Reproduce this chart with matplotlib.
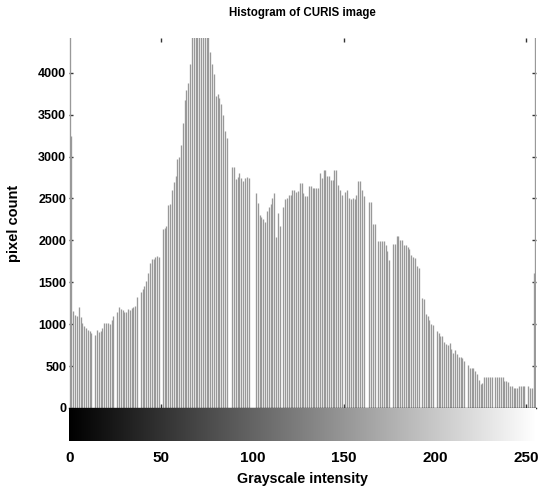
import numpy as np
import matplotlib
matplotlib.use("Agg")
import matplotlib.pyplot as plt

# Grayscale histogram of the CURIS image (pixel counts per intensity level 0..255)
counts = [
    5200, 3250, 1160, 1110, 1100, 1200, 1090, 1010, 975, 950,      # 0-9
    930, 915, 900, 0, 870, 930, 910, 920, 950, 1010,               # 10-19
    1010, 1010, 1000, 1050, 1100, 0, 1140, 1200, 1180, 1170,       # 20-29
    1140, 1150, 1180, 1170, 1190, 1210, 1220, 1330, 0, 1390,       # 30-39
    1420, 1450, 1510, 1610, 1730, 1780, 1780, 1800, 1810, 1800,    # 40-49
    0, 2140, 2150, 2170, 2420, 2430, 2600, 2700, 2770, 2970,       # 50-59
    3000, 3140, 3400, 3670, 3800, 3880, 4100, 4500, 4700, 4900,    # 60-69
    5000, 5100, 4900, 4800, 4700, 4600, 4500, 4250, 4100, 3990,    # 70-79
    3720, 3750, 3700, 3630, 3500, 3300, 3220, 0, 0, 2880,          # 80-89
    2880, 2730, 2760, 2800, 2750, 2710, 2740, 2760, 2750, 0,       # 90-99
    0, 0, 2570, 2450, 2300, 2280, 2260, 2220, 2350, 2400,          # 100-109
    2430, 2500, 2570, 2045, 2330, 2170, 0, 2400, 2490, 2500,       # 110-119
    2540, 2540, 2600, 2600, 2580, 2590, 2690, 2690, 2560, 2530,    # 120-129
    2530, 2650, 2650, 2630, 2630, 2620, 2620, 2810, 2750, 2840,    # 130-139
    2840, 2770, 2770, 2720, 2720, 2840, 2840, 2660, 2600, 2540,    # 140-149
    0, 2580, 2600, 2500, 2490, 2500, 2490, 2540, 2710, 2710,       # 150-159
    2600, 2530, 0, 0, 2460, 2460, 2200, 2200, 0, 1990,             # 160-169
    1990, 1990, 1990, 1950, 1870, 1770, 0, 1960, 1960, 2050,       # 170-179
    2050, 2000, 2000, 1940, 1940, 1920, 1900, 1825, 1800, 1790,    # 180-189
    1700, 1670, 0, 1310, 1300, 1120, 1100, 1050, 1000, 990,        # 190-199
    0, 920, 900, 863, 860, 790, 760, 750, 770, 700,                # 200-209
    660, 690, 640, 612, 612, 592, 560, 0, 513, 481,                # 210-219
    481, 481, 440, 405, 334, 286, 300, 374, 374, 374,              # 220-229
    374, 374, 0, 374, 365, 374, 374, 374, 326, 320,                # 230-239
    306, 262, 262, 234, 234, 234, 262, 262, 262, 262,              # 240-249
    0, 262, 234, 234, 1611, 5200,                                  # 250-255
]
levels = np.arange(len(counts))

ytick_values = [0, 500, 1000, 1500, 2000, 2500, 3000, 3500, 4000]
xtick_values = [0, 50, 100, 150, 200, 250]
hist_tick_values = [50, 150, 250]

plt.rcParams['font.family'] = ['Liberation Sans', 'DejaVu Sans']
plt.rcParams['font.weight'] = 'bold'

fig = plt.figure(figsize=(5.39, 4.88), dpi=100)

W, H = 539.0, 488.0
left_px, right_px = 69.0, 536.0
top_px, zero_px, cbar_bottom_px = 38.0, 408.0, 441.0

ax = fig.add_axes([left_px / W, 1 - zero_px / H,
                   (right_px - left_px) / W, (zero_px - top_px) / H])
cax = fig.add_axes([left_px / W, 1 - cbar_bottom_px / H,
                    (right_px - left_px) / W, (cbar_bottom_px - zero_px) / H])

# histogram stems
ax.vlines(levels, 0, counts, colors='#999999', linewidth=0.95)
ax.set_xlim(-0.3, 255.3)
ax.set_ylim(0, 4415)
ax.set_yticks(ytick_values)
ax.set_yticklabels([str(v) for v in ytick_values], fontsize=9, fontweight='bold')
ax.set_xticks(hist_tick_values)
ax.set_xticklabels([])
ax.tick_params(axis='both', direction='in', length=3, width=1, color='#333333')
ax.tick_params(axis='x', top=True, bottom=True)
ax.tick_params(axis='y', left=True, right=True, pad=2)
for side in ('top', 'left', 'right'):
    ax.spines[side].set_visible(False)
ax.spines['bottom'].set_linewidth(1.0)
ax.spines['bottom'].set_color('#222222')
ax.set_ylabel('pixel count', fontsize=10.5, fontweight='bold', labelpad=12)
ax.set_title('Histogram of CURIS image', fontsize=8.3, fontweight='bold', pad=16)

# grayscale ramp under the histogram
ramp = np.arange(256).reshape(1, -1)
cax.imshow(ramp, cmap='gray', vmin=0, vmax=255, aspect='auto',
           extent=[-0.5, 255.5, 0, 1], interpolation='bilinear')
cax.set_xlim(-0.3, 255.3)
cax.set_ylim(0, 1)
cax.set_yticks([])
cax.set_xticks(xtick_values)
cax.set_xticklabels([str(v) for v in xtick_values], fontsize=11, fontweight='bold')
cax.set_xticks(hist_tick_values, minor=True)
cax.tick_params(axis='x', which='major', length=0, pad=7)
cax.tick_params(axis='x', which='minor', direction='in', length=4, width=1,
                color='#333333', top=True, bottom=True)
for side in ('top', 'left', 'right', 'bottom'):
    cax.spines[side].set_visible(False)
cax.set_xlabel('Grayscale intensity', fontsize=10.3, fontweight='bold', labelpad=5)

fig.savefig('out.png', dpi=100)
